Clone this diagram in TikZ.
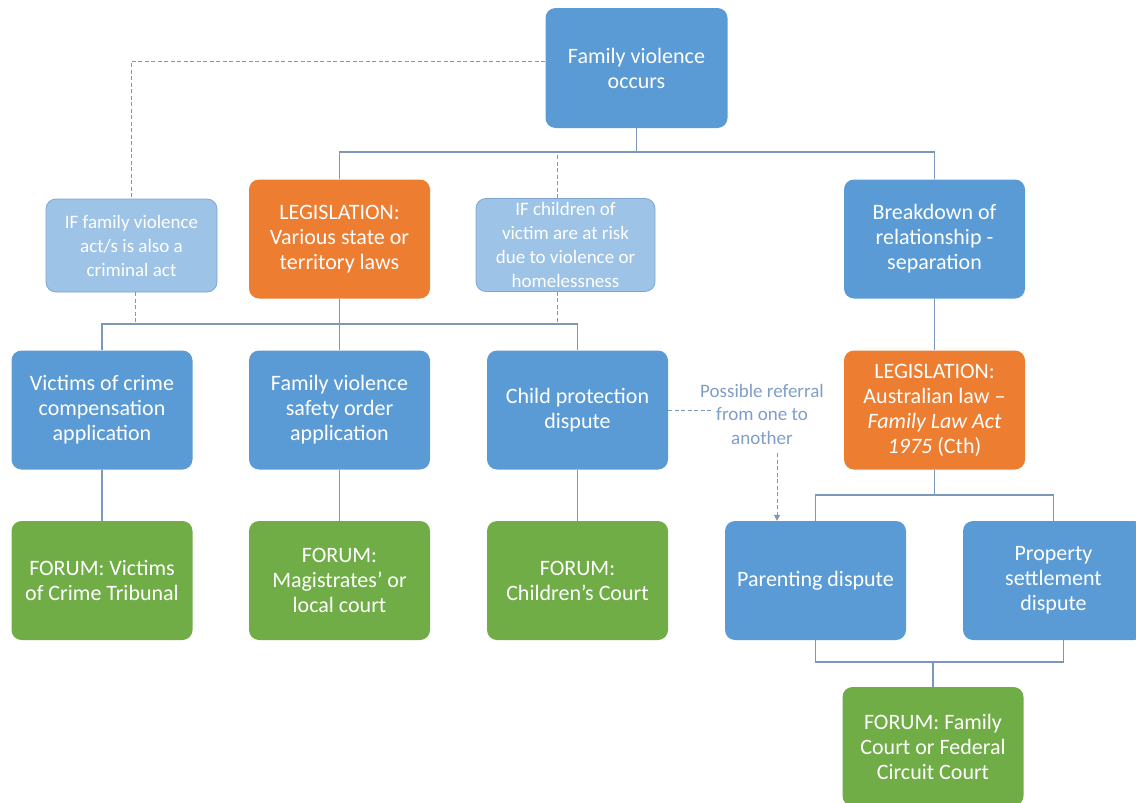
\documentclass[tikz,border=0pt]{standalone}
\usepackage{fontspec}
\setmainfont{Carlito}
\usetikzlibrary{arrows.meta}
\definecolor{cblue}{HTML}{5B9BD5}
\definecolor{corange}{HTML}{ED7D31}
\definecolor{cgreen}{HTML}{70AD47}
\definecolor{clight}{HTML}{9DC3E6}
\definecolor{cifborder}{HTML}{7FA5D2}
\definecolor{cline}{HTML}{7B97BC}
\definecolor{cref}{HTML}{7F9DC9}
\begin{document}
\begin{tikzpicture}[x=1pt,y=-1pt,
  box/.style={rounded corners=10pt, minimum width=181pt, minimum height=119pt, inner sep=0pt, align=center, text=white, font=\fontsize{22}{25}\selectfont},
  bluebox/.style={box, fill=cblue},
  orangebox/.style={box, fill=corange},
  greenbox/.style={box, fill=cgreen},
  ifbox/.style={rounded corners=10pt, minimum height=93pt, inner sep=0pt, align=center, text=white, fill=clight, draw=cifborder, line width=0.8pt, font=\fontsize{19}{24}\selectfont},
  conn/.style={draw=cline, line width=1.5pt},
  dconn/.style={draw=cline, line width=1pt, dash pattern=on 4pt off 2.5pt},
]
\useasboundingbox (0,0) rectangle (1136,803);

% nodes
\node[bluebox, minimum width=182pt, minimum height=120pt] (top) at (636.5,68) {Family violence\\occurs};
\node[orangebox] (leg1) at (339.5,239) {LEGISLATION:\\Various state or\\territory laws};
\node[bluebox] (brk) at (934.5,239) {Breakdown of\\relationship -\\separation};
\node[ifbox, minimum width=171pt] (if1) at (131.5,245.5) {IF family violence\\act/s is also a\\criminal act};
\node[ifbox, minimum width=179pt] (if2) at (565.5,245) {IF children of\\victim are at risk\\due to violence or\\homelessness};

\node[bluebox] (vic) at (102,410) {Victims of crime\\compensation\\application};
\node[bluebox] (fvso) at (339.5,410) {Family violence\\safety order\\application};
\node[bluebox] (child) at (577.5,410) {Child protection\\dispute};
\node[orangebox] (leg2) at (934.5,410) {LEGISLATION:\\Australian law --\\\textit{Family Law Act}\\\textit{1975} (Cth)};

\node[greenbox] (fvic) at (102,580.5) {FORUM: Victims\\of Crime Tribunal};
\node[greenbox] (fmag) at (339.5,580.5) {FORUM:\\Magistrates’ or\\local court};
\node[greenbox] (fchild) at (577.5,580.5) {FORUM:\\Children’s Court};
\node[bluebox] (par) at (815.5,580.5) {Parenting dispute};
\node[bluebox] (prop) at (1053.5,580.5) {Property\\settlement\\dispute};
\node[greenbox] (ffam) at (933,746.5) {FORUM: Family\\Court or Federal\\Circuit Court};

\node[font=\fontsize{19}{23.5}\selectfont, text=cref, align=center, inner sep=0pt] (ref) at (762,414) {Possible referral\\from one to\\another};

% junctions
\coordinate (j1) at (636.5,152);
\coordinate (j2) at (339.5,324);
\coordinate (j3) at (934.5,495);
\coordinate (j4) at (933,662);
\coordinate (refa) at (712,410);
\coordinate (refb) at (777,453);

% solid connectors
\draw[conn] (top.south) -- (j1);
\draw[conn] (leg1.north) |- (j1) -| (brk.north);
\draw[conn] (leg1.south) -- (fvso.north);
\draw[conn] (vic.north) |- (j2) -| (child.north);
\draw[conn] (vic.south) -- (fvic.north);
\draw[conn] (fvso.south) -- (fmag.north);
\draw[conn] (child.south) -- (fchild.north);
\draw[conn] (brk.south) -- (leg2.north);
\draw[conn] (leg2.south) -- (j3);
\draw[conn] (par.north) |- (j3) -| (prop.north);
\draw[conn] (par.south) |- (j4) -| ([xshift=10pt]prop.south);
\draw[conn] (j4) -- (ffam.north);

% dashed connectors
\draw[dconn] ([yshift=7pt]top.west) -| (if1.north);
\draw[dconn] ([xshift=-8pt]if2.north) -- ([xshift=-8pt]if2.north |- j1);
\draw[dconn] ([xshift=4pt]if1.south) -- ([xshift=4pt]if1.south |- j2);
\draw[dconn] ([xshift=-8pt]if2.south) -- ([xshift=-8pt]if2.south |- j2);
\draw[dconn] (child.east) -- (refa);
\draw[dconn, -{Triangle[length=6pt,width=6pt]}] (refb) -- (refb |- par.north);
\end{tikzpicture}
\end{document}
